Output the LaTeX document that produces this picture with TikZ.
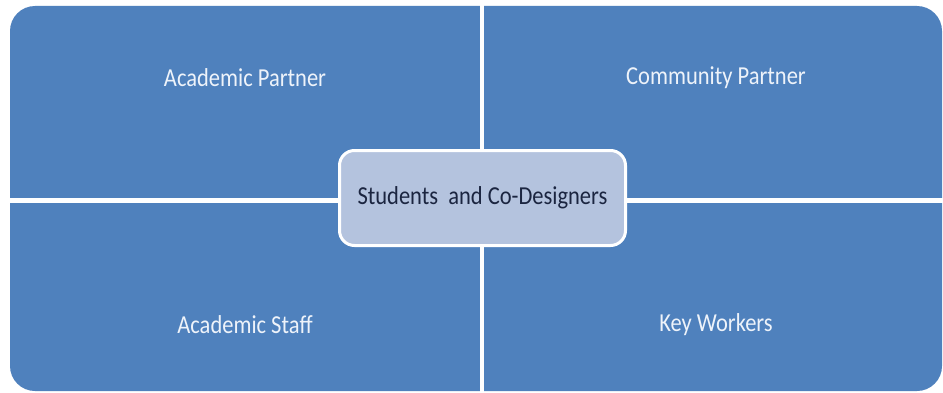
\documentclass[tikz,border=0pt]{standalone}
\usepackage{fontspec}
\setmainfont{Carlito}
\definecolor{qblue}{HTML}{4F81BD}
\definecolor{cfill}{HTML}{B4C3DE}
\definecolor{ctext}{HTML}{1B2540}
\definecolor{qtext}{HTML}{EEF3FA}
\begin{document}
\begin{tikzpicture}[x=1pt,y=1pt,
  quad/.style={fill=qblue,draw=none,rounded corners=25pt},
  gap/.style={draw=white},
  qlabel/.style={text=qtext,font=\fontsize{22.5}{26}\selectfont,inner sep=0pt,yscale=1.15,transform shape},
  centerbox/.style={draw=white,line width=3pt,fill=cfill,rounded corners=15pt,
    minimum width=286pt,minimum height=95pt,text=ctext,font=\fontsize{22.5}{26}\selectfont,inner sep=0pt},
  ctextstyle/.style={text=ctext,font=\fontsize{22.5}{26}\selectfont,inner sep=0pt,yscale=1.15,transform shape}]
\useasboundingbox (0,0) rectangle (943,392);
\fill[white] (0,0) rectangle (943,392);
% quadrants (y flipped: y = 392 - py)
\path[quad] (10,1) rectangle (942,386);
\coordinate (vt) at (482,390);
\coordinate (vb) at (482,-2);
\coordinate (hl) at (6,191.5);
\coordinate (hr) at (946,191.5);
\draw[gap,line width=4pt] (vt) -- (vb);
\draw[gap,line width=5pt] (hl) -- (hr);
\node[qlabel] (ap) at (245,314) {Academic Partner};
\node[qlabel] (cp) at (716,314) {Community Partner};
\node[qlabel] (as) at (245,67) {Academic Staff};
\node[qlabel] (kw) at (716,67) {Key Workers};
\node[centerbox] (sc) at (482.5,194) {};
\node[ctextstyle] (sct) at (sc.center) {Students\ \ and Co-Designers};
\end{tikzpicture}
\end{document}
